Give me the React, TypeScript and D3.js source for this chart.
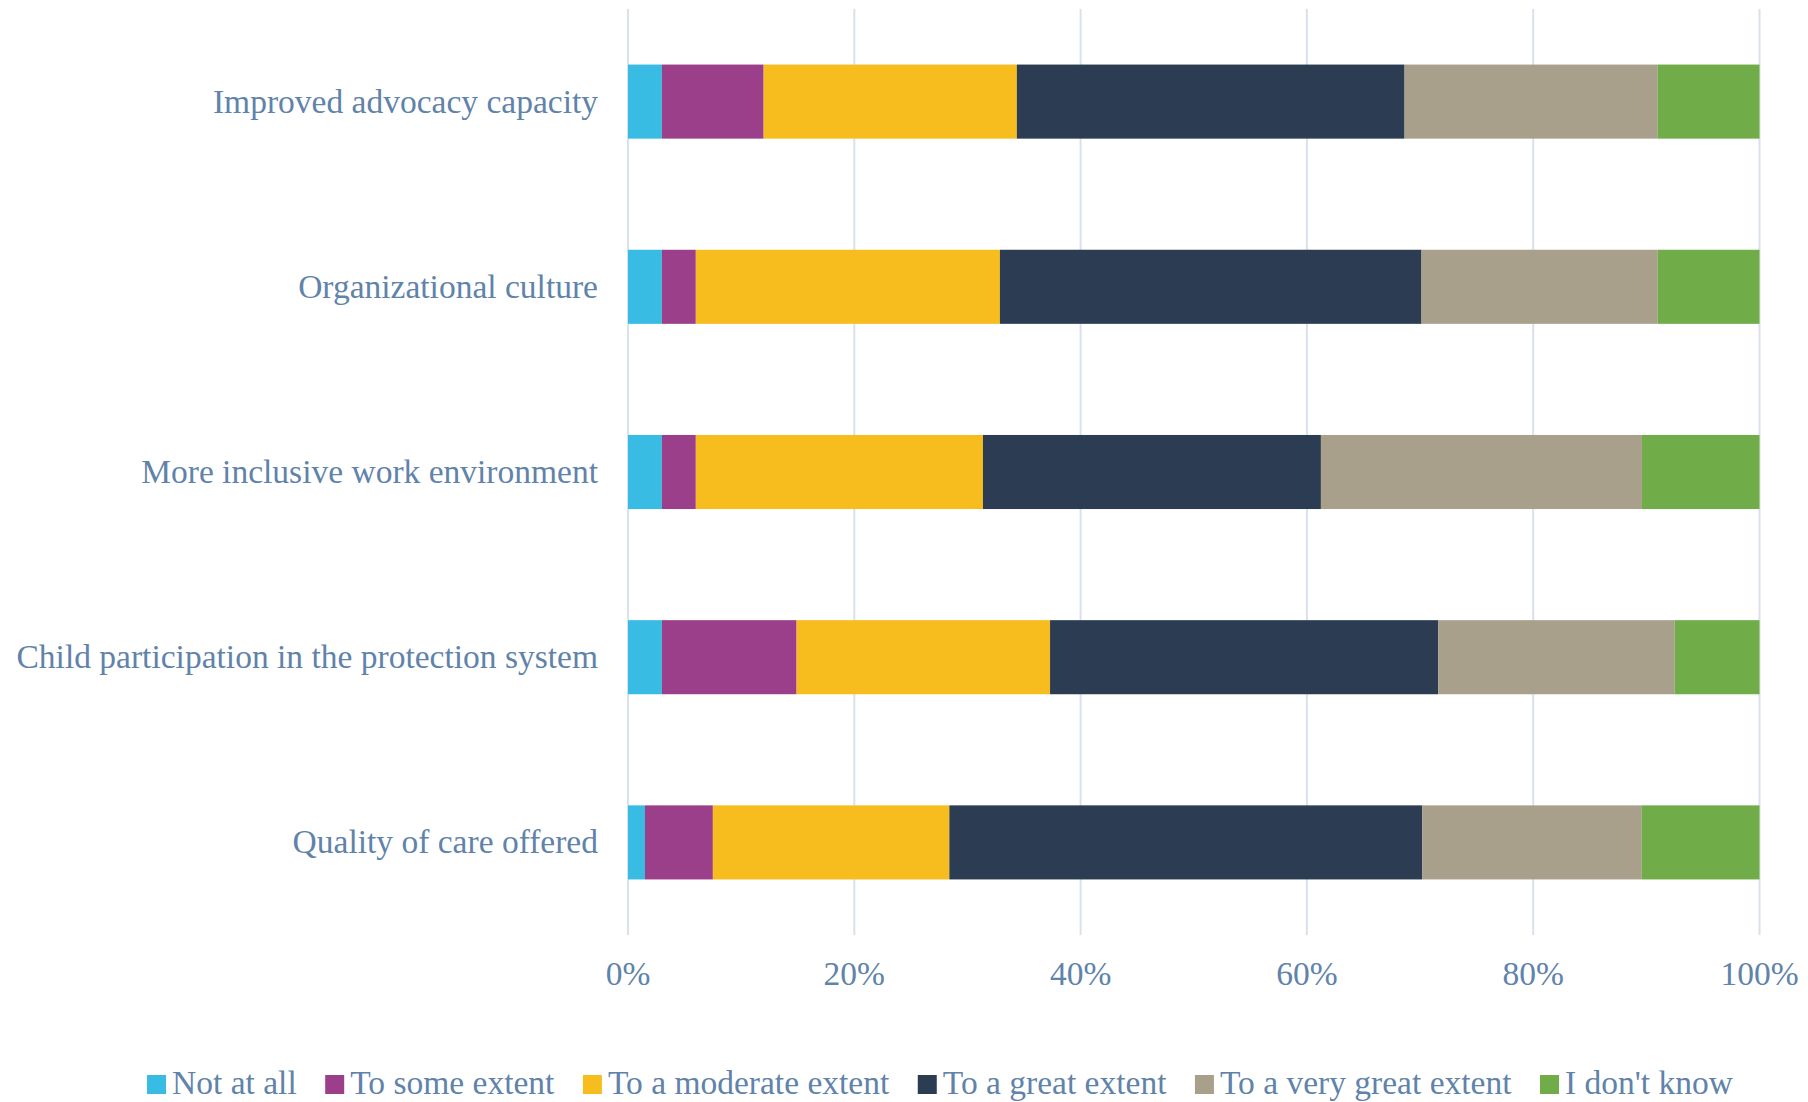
import * as React from "react";
import * as d3 from "d3";

const categories = [
  "Improved advocacy capacity",
  "Organizational culture",
  "More inclusive work environment",
  "Child participation in the protection system",
  "Quality of care offered",
];

const seriesNames = [
  "Not at all",
  "To some extent",
  "To a moderate extent",
  "To a great extent",
  "To a very great extent",
  "I don't know",
];

// percent of respondents, one value per category (same order as categories)
const notAtAll = [3.0, 3.0, 3.0, 3.0, 1.5];
const someExtent = [9.0, 3.0, 3.0, 11.9, 6.0];
const moderateExtent = [22.4, 26.9, 25.4, 22.4, 20.9];
const greatExtent = [34.3, 37.3, 29.9, 34.3, 41.8];
const veryGreatExtent = [22.4, 20.9, 28.4, 20.9, 19.4];
const dontKnow = [9.0, 9.0, 10.4, 7.5, 10.4];

const tickValues = [0, 0.2, 0.4, 0.6, 0.8, 1];

const colors = ["#38bce3", "#9c3f8b", "#f7bd1e", "#2c3d53", "#a9a08c", "#70ac47"];

const WIDTH = 1808,
  HEIGHT = 1102;
const FONT = "'Liberation Serif', 'Times New Roman', serif";
const TEXT_COLOR = "#5f83aa";

export default function App() {
  const ref = React.useRef<SVGSVGElement>(null);

  React.useEffect(() => {
    if (!ref.current) return;
    const svg = d3.select(ref.current);
    svg.selectAll("*").remove();

    const allSeries = [notAtAll, someExtent, moderateExtent, greatExtent, veryGreatExtent, dontKnow];
    const rows = categories.map((c, i) => {
      const row: any = { category: c };
      seriesNames.forEach((s, j) => (row[s] = allSeries[j][i]));
      return row;
    });

    const stacked = d3
      .stack<any>()
      .keys(seriesNames)
      .offset(d3.stackOffsetExpand)(rows);

    const x = d3.scaleLinear().domain([0, 1]).range([628, 1759.5]);
    const y = d3
      .scaleBand<string>()
      .domain(categories)
      .range([9, 935])
      .paddingInner(0.6)
      .paddingOuter(0.3);

    const color = d3.scaleOrdinal<string, string>().domain(seriesNames).range(colors);

    // gridlines
    svg
      .append("g")
      .selectAll("line")
      .data(tickValues)
      .enter()
      .append("line")
      .attr("x1", d => x(d))
      .attr("x2", d => x(d))
      .attr("y1", 9)
      .attr("y2", 935)
      .attr("stroke", "#d9e2ec")
      .attr("stroke-width", 2);

    // bars
    const layer = svg
      .append("g")
      .selectAll("g")
      .data(stacked)
      .enter()
      .append("g")
      .attr("fill", d => color(d.key));

    layer
      .selectAll("rect")
      .data(d => d)
      .enter()
      .append("rect")
      .attr("x", d => x(d[0]))
      .attr("width", d => x(d[1]) - x(d[0]))
      .attr("y", d => y(d.data.category)!)
      .attr("height", y.bandwidth());

    // category labels
    svg
      .append("g")
      .selectAll("text")
      .data(categories)
      .enter()
      .append("text")
      .attr("x", 598)
      .attr("y", d => y(d)! + y.bandwidth() / 2 + 11)
      .attr("text-anchor", "end")
      .attr("font-family", FONT)
      .attr("font-size", 33.5)
      .attr("fill", TEXT_COLOR)
      .text(d => d);

    // tick labels
    svg
      .append("g")
      .selectAll("text")
      .data(tickValues)
      .enter()
      .append("text")
      .attr("x", d => x(d))
      .attr("y", 985)
      .attr("text-anchor", "middle")
      .attr("font-family", FONT)
      .attr("font-size", 33.5)
      .attr("fill", TEXT_COLOR)
      .text(d => d3.format(".0%")(d));

    // legend
    const legend = svg.append("g");
    const items = legend
      .selectAll("g")
      .data(seriesNames)
      .enter()
      .append("g");
    items
      .append("rect")
      .attr("width", 19)
      .attr("height", 19)
      .attr("y", 1075)
      .attr("fill", d => color(d));
    const labels = items
      .append("text")
      .attr("x", 25)
      .attr("y", 1094)
      .attr("font-family", FONT)
      .attr("font-size", 33.5)
      .attr("fill", TEXT_COLOR)
      .text(d => d);

    const widths: number[] = [];
    labels.each(function () {
      widths.push((this as SVGTextElement).getComputedTextLength());
    });
    const itemW = widths.map(w => 25 + w);
    const gap = 28.5;
    const total = d3.sum(itemW) + gap * (itemW.length - 1);
    let cx = 940 - total / 2;
    items.attr("transform", (d, i) => {
      const t = `translate(${cx},0)`;
      cx += itemW[i] + gap;
      return t;
    });
  }, []);

  return (
    <svg
      ref={ref}
      width={WIDTH}
      height={HEIGHT}
      style={{ position: "absolute", left: 0, top: 0, background: "#fff" }}
    />
  );
}
